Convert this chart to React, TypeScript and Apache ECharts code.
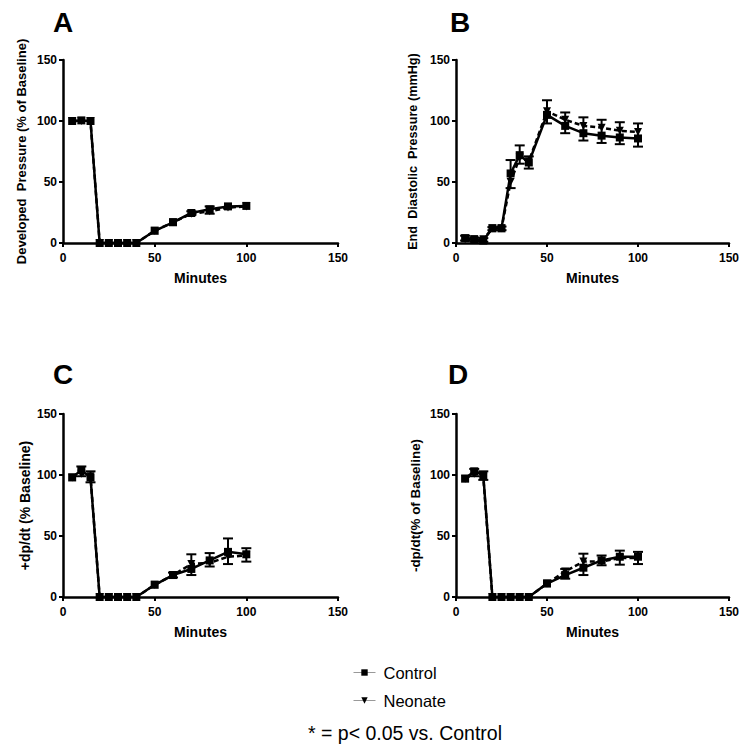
import React, { useEffect, useRef } from "react";
import * as echarts from "echarts";

const minutes = [5, 10, 15, 20, 25, 30, 35, 40, 50, 60, 70, 80, 90, 100];

const aControl = [100, 100.5, 100, 0, 0, 0, 0, 0, 10, 17, 24.6, 27.6, 30, 30.4];
const aNeonate = [100, 100, 100, 0, 0, 0, 0, 0, 10, 17, 24, 26, 29, 30];
const aErrors = [[70, 23, 26], [80, 24, 30]];

const bControl = [4, 3, 2, 12, 12, 57, 72, 66, 105, 96, 90, 88, 86.5, 85.7];
const bNeonate = [3, 3, 3, 12, 12, 50, 70, 67, 108, 101, 96, 94.5, 92, 91];
const bErrors = [
  [5, 2, 6], [10, 1.5, 4.5], [15, 1, 4], [20, 10.5, 13], [25, 10.5, 13.5],
  [30, 45, 68], [35, 65, 80], [40, 61, 71], [50, 98, 117], [60, 90, 107],
  [70, 84, 103], [80, 82, 101], [90, 81, 99], [100, 79, 98],
];

const cControl = [98, 104, 98, 0, 0, 0, 0, 0, 10, 18, 23, 30, 37, 35];
const cNeonate = [98, 101, 99, 0, 0, 0, 0, 0, 10, 18, 27, 28, 33, 34];
const cErrors = [[10, 99, 107], [15, 94, 103], [60, 16, 20], [70, 18, 35], [80, 25, 36], [90, 27, 48], [100, 29, 40]];

const dControl = [97, 103, 100, 0, 0, 0, 0, 0, 11, 18, 24, 30, 33, 33];
const dNeonate = [97, 101, 98, 0, 0, 0, 0, 0, 11, 21, 29, 29, 32, 32];
const dErrors = [[10, 99, 105], [15, 96, 103], [60, 15, 23], [70, 18, 35.5], [80, 26, 34], [90, 26.5, 38], [100, 27, 37]];

const panelLetters = ["A", "B", "C", "D"];
const yNames = [
  "Developed  Pressure (% of Baseline)",
  "End  Diastolic  Pressure (mmHg)",
  "+dp/dt (% Baseline)",
  "-dp/dt(% of Baseline)",
];
const xName = "Minutes";
const yTicks = { min: 0, max: 150, interval: 50 };
const xTicks = { min: 0, max: 150, interval: 50 };

const FONT = "'Liberation Sans', Arial, Helvetica, sans-serif";

export default function App() {
  const ref = useRef<HTMLDivElement>(null);
  useEffect(() => {
    if (!ref.current) return;
    const chart = echarts.init(ref.current, null, { renderer: "svg" });

    const grids = [
      { left: 63, top: 60, width: 275, height: 183 },
      { left: 456, top: 60, width: 273, height: 183 },
      { left: 63, top: 414, width: 275, height: 183 },
      { left: 456, top: 414, width: 273, height: 183 },
    ];
    const controls = [aControl, bControl, cControl, dControl];
    const neonates = [aNeonate, bNeonate, cNeonate, dNeonate];
    const errors = [aErrors, bErrors, cErrors, dErrors];
    const yNameGaps = [35, 37, 31, 34];
    const yNameSizes = [13, 12.7, 14, 13.4];

    const axisCommon = {
      axisLine: { show: true, lineStyle: { color: "#000", width: 2.5 } },
      axisTick: { show: true, length: 4, lineStyle: { color: "#000", width: 2 } },
      splitLine: { show: false },
      axisLabel: { color: "#000", fontWeight: "bold", fontSize: 12, fontFamily: FONT, margin: 6 },
    };

    const xAxis = grids.map((_, i) => ({
      type: "value",
      gridIndex: i,
      ...xTicks,
      ...axisCommon,
      axisLabel: { ...axisCommon.axisLabel, margin: 9 },
      name: xName,
      nameLocation: "middle",
      nameGap: 28,
      nameTextStyle: { color: "#000", fontWeight: "bold", fontSize: 14, fontFamily: FONT },
    }));
    const yAxis = grids.map((_, i) => ({
      type: "value",
      gridIndex: i,
      ...yTicks,
      ...axisCommon,
      name: yNames[i],
      nameLocation: "middle",
      nameGap: yNameGaps[i],
      nameRotate: 90,
      nameTextStyle: { color: "#000", fontWeight: "bold", fontSize: yNameSizes[i], fontFamily: FONT },
    }));

    const series: any[] = [];
    grids.forEach((_, i) => {
      series.push({
        type: "custom",
        name: "err" + i,
        xAxisIndex: i,
        yAxisIndex: i,
        silent: true,
        z: 1,
        data: errors[i],
        encode: { x: 0, y: [1, 2] },
        renderItem: (params: any, api: any) => {
          const x = api.value(0);
          const lo = api.coord([x, api.value(1)]);
          const hi = api.coord([x, api.value(2)]);
          const w = 5;
          const st = { stroke: "#000", lineWidth: 2 };
          return {
            type: "group",
            children: [
              { type: "line", shape: { x1: lo[0], y1: lo[1], x2: hi[0], y2: hi[1] }, style: st },
              { type: "line", shape: { x1: lo[0] - w, y1: lo[1], x2: lo[0] + w, y2: lo[1] }, style: st },
              { type: "line", shape: { x1: hi[0] - w, y1: hi[1], x2: hi[0] + w, y2: hi[1] }, style: st },
            ],
          };
        },
      });
      series.push({
        type: "line",
        name: "Neonate",
        xAxisIndex: i,
        yAxisIndex: i,
        data: minutes.map((m, k) => [m, neonates[i][k]]),
        symbol: "triangle",
        symbolRotate: 180,
        symbolSize: 8,
        lineStyle: { color: "#000", width: 2.5, type: [5, 3] },
        itemStyle: { color: "#000" },
        z: 2,
      });
      series.push({
        type: "line",
        name: "Control",
        xAxisIndex: i,
        yAxisIndex: i,
        data: minutes.map((m, k) => [m, controls[i][k]]),
        symbol: "rect",
        symbolSize: 8,
        lineStyle: { color: "#000", width: 2.5 },
        itemStyle: { color: "#000" },
        z: 3,
      });
    });

    const letterPos = [
      [63, 22],
      [460, 22],
      [63, 374],
      [458, 374],
    ];

    chart.setOption({
      animation: false,
      backgroundColor: "#fff",
      grid: grids,
      xAxis,
      yAxis,
      series,
      legend: {
        data: ["Control", "Neonate"],
        orient: "vertical",
        left: 348,
        top: 659,
        itemGap: 11,
        itemWidth: 22,
        itemHeight: 8,
        selectedMode: false,
        textStyle: { color: "#000", fontSize: 16.5, fontFamily: FONT, padding: [0, 0, 0, 3] },
        lineStyle: { color: "#999", width: 1, type: "solid" },
      },
      graphic: [
        ...panelLetters.map((t, i) => ({
          type: "text",
          x: letterPos[i][0],
          y: letterPos[i][1],
          style: {
            text: t,
            fill: "#000",
            font: `bold 28px ${FONT}`,
            textAlign: "center",
            textVerticalAlign: "middle",
          },
        })),
        {
          type: "text",
          x: 405,
          y: 733,
          style: {
            text: "* = p< 0.05 vs. Control",
            fill: "#000",
            font: `19.5px ${FONT}`,
            textAlign: "center",
            textVerticalAlign: "middle",
          },
        },
      ],
    });
    return () => chart.dispose();
  }, []);
  return (
    <div
      ref={ref}
      style={{ position: "fixed", left: 0, top: 0, width: 749, height: 751, background: "#fff" }}
    />
  );
}
